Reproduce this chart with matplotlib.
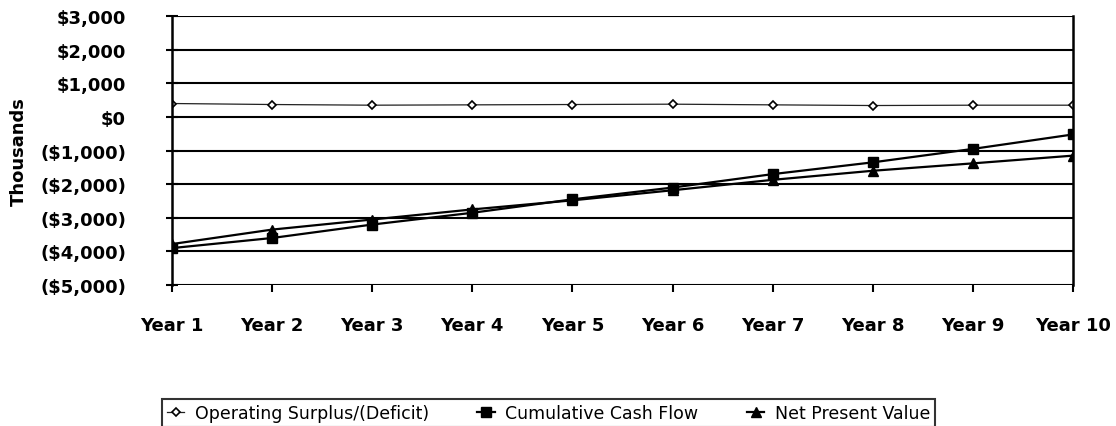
import matplotlib.pyplot as plt
from matplotlib.ticker import FuncFormatter

# data (thousands of dollars)
years = ["Year 1", "Year 2", "Year 3", "Year 4", "Year 5",
         "Year 6", "Year 7", "Year 8", "Year 9", "Year 10"]
operating = [400, 370, 350, 360, 370, 380, 360, 340, 350, 350]
cumulative = [-3900, -3600, -3200, -2850, -2450, -2100, -1700, -1350, -950, -520]
npv = [-3780, -3350, -3050, -2750, -2480, -2180, -1870, -1600, -1380, -1150]

x = list(range(len(years)))

fig = plt.figure(figsize=(11.16, 4.27), dpi=100)
ax = fig.add_axes([0.154, 0.33, 0.8075, 0.63])

ax.plot(x, operating, color="#222222", lw=0.9, marker="D", ms=4.5,
        mfc="white", mec="black", mew=1.2, label="Operating Surplus/(Deficit)")
ax.plot(x, cumulative, color="black", lw=1.6, marker="s", ms=7,
        label="Cumulative Cash Flow")
ax.plot(x, npv, color="black", lw=1.6, marker="^", ms=7,
        label="Net Present Value")

ax.set_xlim(0, len(years) - 1)
ax.set_ylim(-5000, 3000)
ax.set_yticks(range(-5000, 3001, 1000))
ax.set_xticks(x)
ax.set_xticklabels(years)


def money(v, pos):
    if v < 0:
        return "(${:,.0f})".format(-v)
    return "${:,.0f}".format(v)


ax.yaxis.set_major_formatter(FuncFormatter(money))
ax.grid(axis="y", color="black", lw=1.5)
ax.set_axisbelow(True)

for s in ["top", "bottom"]:
    ax.spines[s].set_visible(False)
ax.spines["left"].set_linewidth(1.8)
ax.spines["right"].set_linewidth(1.8)

ax.tick_params(axis="y", direction="inout", length=8, width=1.5, pad=29)
ax.tick_params(axis="x", direction="out", length=5, width=1.5, pad=17)
for lab in ax.get_xticklabels() + ax.get_yticklabels():
    lab.set_fontweight("bold")
    lab.set_fontsize(13)

ax.set_ylabel("Thousands", fontsize=13, fontweight="bold")
ax.yaxis.set_label_coords(-0.16, 0.5)

# legend box spread under the plot, bottom edge runs off the page
leg = fig.legend(loc="upper left", bbox_to_anchor=(0.145, 0.064, 0.693, 0.0),
                 mode="expand", ncol=3, frameon=True, fancybox=False,
                 edgecolor="black", fontsize=12.5, handlelength=1.0,
                 handletextpad=0.6, borderpad=0.3, borderaxespad=0)
leg.get_frame().set_linewidth(1.5)

fig.savefig("out.png", dpi=100)
